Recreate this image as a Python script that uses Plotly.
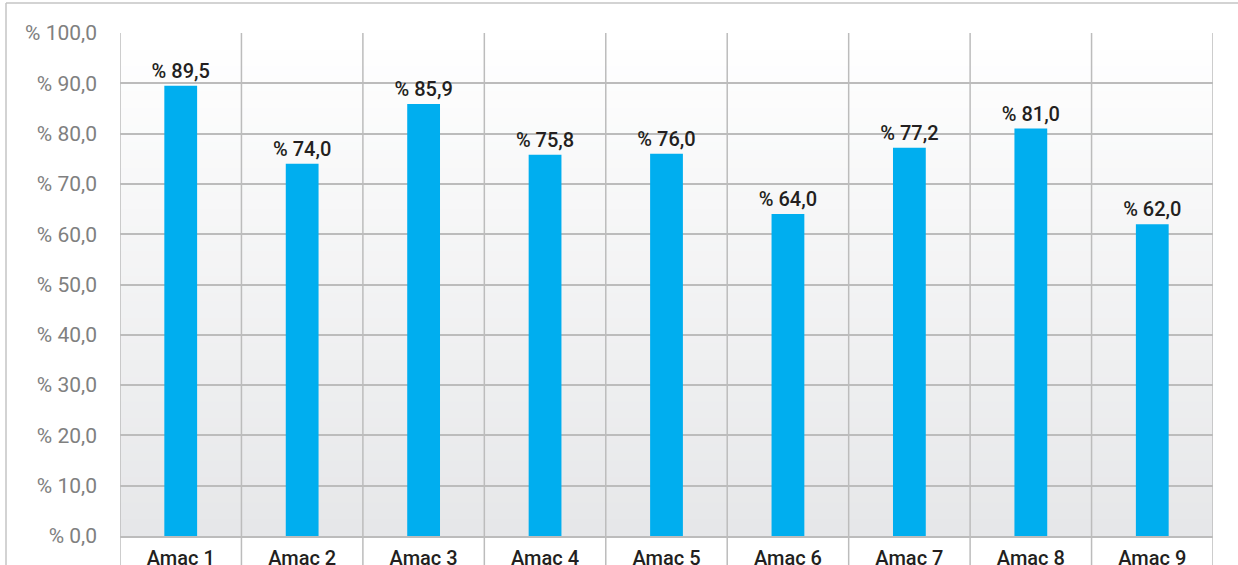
import plotly.graph_objects as go

categories = ["Amaç 1", "Amaç 2", "Amaç 3", "Amaç 4", "Amaç 5", "Amaç 6", "Amaç 7", "Amaç 8", "Amaç 9"]
values = [89.5, 74.0, 85.9, 75.8, 76.0, 64.0, 77.2, 81.0, 62.0]
tick_vals = [0, 10, 20, 30, 40, 50, 60, 70, 80, 90, 100]
tick_text = ["% 0,0", "% 10,0", "% 20,0", "% 30,0", "% 40,0", "% 50,0", "% 60,0", "% 70,0", "% 80,0", "% 90,0", "% 100,0"]

W, H = 1238, 565
L, R, T, B = 120, 25, 33, 29
pw, ph = W - L - R, H - T - B

def px_x(p):
    return (p - L) / pw

def px_y(p):
    return (H - B - p) / ph

bar_text = ["% " + f"{v:.1f}".replace(".", ",") for v in values]

fig = go.Figure()
fig.add_trace(go.Bar(
    x=list(range(len(categories))), y=values, text=bar_text,
    textposition="outside", cliponaxis=False, constraintext="none",
    marker=dict(color="#00AEEF", line=dict(width=0)),
    width=0.27,
    textfont=dict(family="Roboto", size=20, color="#231f20", weight=500),
))

shapes = []
n = 60
for i in range(n):
    t = i / (n - 1)
    r = int(round(0xe6 + (0xff - 0xe6) * t))
    g = int(round(0xe7 + (0xff - 0xe7) * t))
    b = int(round(0xe9 + (0xff - 0xe9) * t))
    shapes.append(dict(type="rect", xref="paper", yref="paper",
                       x0=0, x1=1, y0=i / n, y1=(i + 1) / n + 0.002,
                       fillcolor=f"rgb({r},{g},{b})", line=dict(width=0), layer="below"))
for k in range(len(categories) + 1):
    shapes.append(dict(type="line", xref="x", yref="paper",
                       x0=k - 0.5, x1=k - 0.5, y0=px_y(H + 5), y1=1,
                       line=dict(color="#bcbcbc", width=1.5), layer="below"))
shapes.append(dict(type="line", xref="paper", yref="paper",
                   x0=px_x(6), x1=px_x(6), y0=px_y(H + 5), y1=px_y(3),
                   line=dict(color="#c4c4c4", width=1.5)))
shapes.append(dict(type="line", xref="paper", yref="paper",
                   x0=px_x(6), x1=px_x(W + 5), y0=px_y(3), y1=px_y(3),
                   line=dict(color="#c4c4c4", width=1.5)))

fig.update_layout(
    width=W, height=H,
    margin=dict(l=L, r=R, t=T, b=B, pad=0, autoexpand=False),
    paper_bgcolor="white", plot_bgcolor="rgba(0,0,0,0)",
    showlegend=False, shapes=shapes,
)
fig.update_xaxes(
    range=[-0.5, len(categories) - 0.5], automargin=False,
    tickvals=list(range(len(categories))), ticktext=categories,
    showgrid=False, zeroline=False, showline=True, linecolor="#bcbcbc", linewidth=1.5,
    ticks="", ticklabelstandoff=3,
    tickfont=dict(family="Roboto", size=20, color="#231f20", weight=500),
)
fig.update_yaxes(
    range=[0, 100], tickvals=tick_vals, ticktext=tick_text, automargin=False,
    showgrid=True, gridcolor="#bcbcbc", gridwidth=1.5, zeroline=False,
    showline=False, ticks="", ticklabelstandoff=22,
    tickfont=dict(family="Roboto", size=21, color="#808080"),
)
fig.write_html("out.html", config={"displayModeBar": False},
               post_script="document.body.style.margin='0px';document.body.style.overflow='hidden';")
